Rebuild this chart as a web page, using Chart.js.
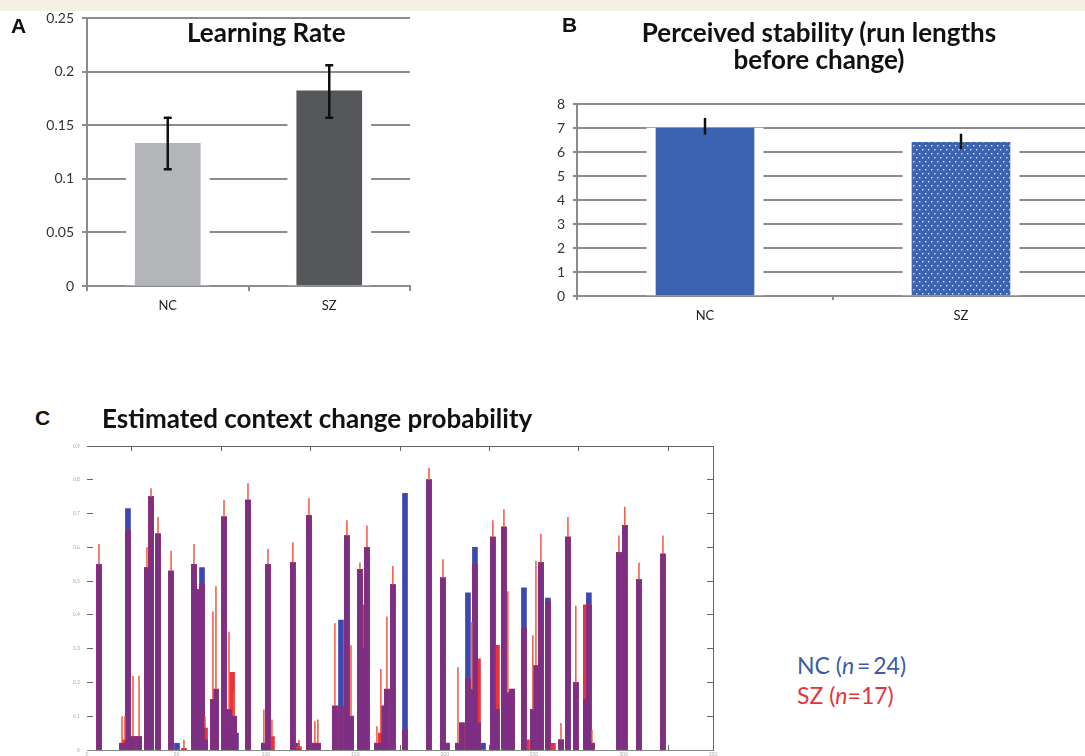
<!DOCTYPE html>
<html>
<head>
<meta charset="utf-8">
<script src="https://cdn.jsdelivr.net/npm/chart.js@4.4.1/dist/chart.umd.min.js"></script>
<style>
  html, body { margin: 0; padding: 0; background: #fff; overflow: hidden; width: 1085px; height: 756px; }
  body { position: relative; font-family: Lato, "Open Sans", sans-serif; }
  #strip { position: absolute; left: 0; top: 0; width: 1085px; height: 11px; background: #f4f0e4; }
  .box { position: absolute; }
  .letter { position: absolute; font: bold 21px "Liberation Sans", Arial, sans-serif; color: #111; }
  .ttl { position: absolute; font-family: Lato, sans-serif; font-weight: bold; font-size: 26px; color: #111; white-space: nowrap; line-height: 27px; }
  #legendC { position: absolute; left: 797px; top: 650px; font-family: Lato, sans-serif; font-size: 23px; line-height: 30px; }
</style>
</head>
<body>
<div id="strip"></div>
<div class="box" style="left:0;top:0;width:430px;height:320px"><canvas id="chartA"></canvas></div>
<div class="box" style="left:540px;top:0;width:560px;height:330px"><canvas id="chartB"></canvas></div>
<div class="box" style="left:0;top:430px;width:760px;height:340px"><canvas id="chartC"></canvas></div>

<div class="letter" style="left:11px;top:14px">A</div>
<div class="letter" style="left:562px;top:13px">B</div>
<div class="letter" style="left:35px;top:406px">C</div>
<div class="ttl" style="left:187px;top:19px">Learning Rate</div>
<div class="ttl" style="left:619px;top:19px;width:400px;text-align:center">Perceived stability (run lengths<br>before change)</div>
<div class="ttl" style="left:102px;top:405px">Estimated context change probability</div>
<div id="legendC">
  <div style="color:#3c5ba8">NC (<i>n</i>&#8201;=&#8201;24)</div>
  <div style="color:#e2363b">SZ (<i>n</i>=17)</div>
</div>

<script>
// ---- data ----
const groups = ['NC', 'SZ'];

// A: learning rate
const rateMean = [0.133, 0.182];
const rateLow = [0.109, 0.157];
const rateHigh = [0.157, 0.206];
const rateTicks = [0, 0.05, 0.1, 0.15, 0.2, 0.25];

// B: perceived stability
const runMean = [7.0, 6.4];
const runLow = [6.72, 6.12];
const runHigh = [7.42, 6.76];
const runTicks = [0, 1, 2, 3, 4, 5, 6, 7, 8];

// C: estimated context change probability per trial
const trialPos = [6.7, 19.6, 21.2, 22.9, 25.7, 29.1, 33.5, 35.8, 39.7, 47.0,
  50.3, 54.2, 59.8, 62.0, 64.3, 66.0, 70.4, 72.1, 76.6, 79.4,
  81.1, 82.2, 83.3, 90.0, 98.9, 101.2, 103.4, 115.1, 117.4, 118.5,
  124.1, 127.4, 129.1, 138.6, 142.0, 145.3, 147.6, 152.6, 154.3, 156.5,
  162.1, 164.3, 166.0, 167.7, 171.0, 177.8, 191.2, 199.0, 201.2, 207.4,
  209.6, 213.0, 215.2, 216.9, 218.6, 221.4, 226.9, 229.2, 233.1, 235.3,
  237.6, 244.3, 246.0, 249.3, 251.0, 253.8, 257.7, 260.5, 265.0, 268.9,
  273.3, 278.9, 280.6, 282.3, 297.4, 300.7, 308.6, 322.0];
const ncProb = [0.55, 0.02, 0, 0.715, 0.04, 0.04, 0.54, 0.75, 0.64, 0.53,
  0.02, 0, 0.55, 0.475, 0.54, 0.03, 0.15, 0.18, 0.69, 0.12,
  0.05, 0.10, 0.05, 0.74, 0.02, 0.55, 0, 0.555, 0.02, 0,
  0.695, 0.02, 0.02, 0.13, 0.385, 0.635, 0.10, 0.535, 0.30, 0.60,
  0.02, 0.02, 0.13, 0.18, 0.49, 0.76, 0.80, 0.51, 0.02, 0.02,
  0.08, 0.465, 0.18, 0.60, 0.08, 0.02, 0.63, 0.12, 0.66, 0.17,
  0.18, 0.48, 0, 0.12, 0.25, 0.555, 0.45, 0, 0.03, 0.63,
  0.20, 0.15, 0.465, 0.02, 0.585, 0.665, 0.505, 0.58];
const szProb = [0.55, 0.02, 0.03, 0.65, 0.04, 0.04, 0.54, 0.75, 0.64, 0.53,
  0, 0.005, 0.55, 0.475, 0.49, 0.065, 0.15, 0.18, 0.69, 0.12,
  0.23, 0.10, 0, 0.74, 0.02, 0.55, 0.04, 0.555, 0, 0.01,
  0.695, 0.02, 0.02, 0.13, 0.13, 0.635, 0.10, 0.535, 0.43, 0.60,
  0.02, 0.05, 0.13, 0.18, 0.49, 0.06, 0.80, 0.51, 0.02, 0.02,
  0.08, 0.21, 0.18, 0.55, 0.27, 0, 0.63, 0.31, 0.66, 0.17,
  0.18, 0.36, 0.03, 0.12, 0.25, 0.555, 0.44, 0.02, 0.03, 0.63,
  0.20, 0.43, 0.43, 0.02, 0.585, 0.665, 0.505, 0.58];
const szErrTop = [0.61, 0.10, 0.10, null, 0.22, 0.22, 0.60, 0.775, 0.69, 0.59,
  null, 0.03, 0.61, null, null, 0.10, 0.41, 0.485, 0.74, 0.35,
  null, 0.17, null, 0.79, 0.12, 0.595, 0.09, 0.615, null, 0.03,
  0.745, 0.085, 0.09, 0.375, null, 0.68, 0.31, 0.555, null, 0.665,
  0.07, 0.24, null, 0.395, 0.545, null, 0.835, 0.565, null, 0.245,
  null, null, 0.38, null, null, null, 0.68, null, 0.713, 0.47,
  null, null, null, 0.34, 0.56, 0.64, null, null, 0.08, 0.69,
  0.427, null, null, 0.06, 0.635, 0.72, 0.555, 0.635];
const trialTicks = [0, 50, 100, 150, 200, 250, 300, 350];
const probTicks = [0, 0.1, 0.2, 0.3, 0.4, 0.5, 0.6, 0.7, 0.8, 0.9];

// ---- helpers ----
const whiskers = {
  id: 'whiskers',
  afterDatasetsDraw(chart, args, opts) {
    if (!opts.high) return;
    const { ctx, scales: { x, y } } = chart;
    ctx.save();
    ctx.strokeStyle = opts.color;
    ctx.lineWidth = opts.width;
    opts.high.forEach((hi, i) => {
      if (hi == null) return;
      const px = x.getPixelForValue(opts.at[i]);
      const y1 = y.getPixelForValue(opts.low[i]);
      const y2 = y.getPixelForValue(hi);
      ctx.beginPath();
      ctx.moveTo(px, y1); ctx.lineTo(px, y2);
      if (opts.cap) {
        ctx.moveTo(px - opts.cap, y1); ctx.lineTo(px + opts.cap, y1);
        ctx.moveTo(px - opts.cap, y2); ctx.lineTo(px + opts.cap, y2);
      }
      ctx.stroke();
    });
    ctx.restore();
  }
};
Chart.register(whiskers);

function dotPattern(base) {
  const c = document.createElement('canvas');
  c.width = 6; c.height = 8;
  const g = c.getContext('2d');
  g.fillStyle = base;
  g.fillRect(0, 0, 6, 8);
  g.fillStyle = 'rgba(235,240,250,0.9)';
  g.fillRect(1, 1, 1.4, 1.4);
  g.fillRect(4, 5, 1.4, 1.4);
  return g.createPattern(c, 'repeat');
}

const gridGrey = '#8c8c8c';
const plain = v => String(v);
Chart.defaults.font.family = 'Lato, "Open Sans", sans-serif';
Chart.defaults.animation = false;

// ---- A ----
new Chart(document.getElementById('chartA'), {
  type: 'bar',
  data: {
    labels: groups,
    datasets: [
      { data: rateMean, backgroundColor: ['#b3b5b8', '#55575a'], barThickness: 65, grouped: false },
      { data: rateMean, backgroundColor: '#fff', barThickness: 83, grouped: false }
    ]
  },
  options: {
    responsive: true,
    maintainAspectRatio: false,
    layout: { padding: { top: 18, right: 20, left: 0, bottom: 0 } },
    plugins: {
      legend: { display: false },
      tooltip: { enabled: false },
      whiskers: { at: [0, 1], low: rateLow, high: rateHigh, color: '#111', width: 2.5, cap: 4 }
    },
    scales: {
      x: {
        z: 1,
        grid: { drawOnChartArea: false, color: gridGrey, lineWidth: 2, tickLength: 5 },
        border: { color: gridGrey, width: 2 },
        ticks: { color: '#222', font: { size: 13 }, padding: 7 },
        afterFit(s) { s.height = 34; }
      },
      y: {
        min: 0, max: 0.25,
        afterBuildTicks(s) { s.ticks = rateTicks.map(v => ({ value: v })); },
        grid: { color: gridGrey, lineWidth: 2, tickLength: 5 },
        border: { color: gridGrey, width: 2 },
        ticks: { color: '#333', font: { size: 14 }, padding: 8, callback: plain },
        afterFit(s) { s.width = 87; }
      }
    }
  }
});

// ---- B ----
const blueB = '#3b63b0';
new Chart(document.getElementById('chartB'), {
  type: 'bar',
  data: {
    labels: groups,
    datasets: [
      { data: runMean, backgroundColor: [blueB, dotPattern(blueB)], barThickness: 98, grouped: false },
      { data: runMean, backgroundColor: '#fff', barThickness: 116, grouped: false }
    ]
  },
  options: {
    responsive: true,
    maintainAspectRatio: false,
    layout: { padding: { top: 104, right: 11, left: 0, bottom: 0 } },
    plugins: {
      legend: { display: false },
      tooltip: { enabled: false },
      whiskers: { at: [0, 1], low: runLow, high: runHigh, color: '#111', width: 2.5, cap: 0 }
    },
    scales: {
      x: {
        z: 1,
        grid: { drawOnChartArea: false, color: gridGrey, lineWidth: 2, tickLength: 4 },
        border: { color: gridGrey, width: 2 },
        ticks: { color: '#222', font: { size: 13 }, padding: 8 },
        afterFit(s) { s.height = 34; }
      },
      y: {
        min: 0, max: 8,
        afterBuildTicks(s) { s.ticks = runTicks.map(v => ({ value: v })); },
        grid: { color: gridGrey, lineWidth: 2, tickLength: 4 },
        border: { color: gridGrey, width: 2 },
        ticks: { color: '#333', font: { size: 14 }, padding: 8, callback: plain },
        afterFit(s) { s.width = 37; }
      }
    }
  }
});

// ---- C ----
const pts = arr => arr.map((v, i) => ({ x: trialPos[i], y: v }));
const overlap = ncProb.map((v, i) => Math.min(v, szProb[i]));
const tinyTicks = { color: '#aaa', font: { size: 5 } };
new Chart(document.getElementById('chartC'), {
  type: 'bar',
  data: {
    datasets: [
      { data: pts(overlap), backgroundColor: '#7d2f84', barThickness: 5, grouped: false },
      { data: pts(szProb), backgroundColor: '#ea3238', barThickness: 5, grouped: false },
      { data: pts(ncProb), backgroundColor: '#3d47b0', barThickness: 5, grouped: false }
    ]
  },
  options: {
    responsive: true,
    maintainAspectRatio: false,
    layout: { padding: { top: 15, right: 0, left: 0, bottom: 0 } },
    plugins: {
      legend: { display: false },
      tooltip: { enabled: false },
      whiskers: { at: trialPos, low: szProb, high: szErrTop, color: '#f2563f', width: 1.5, cap: 0 }
    },
    scales: {
      x: {
        type: 'linear', min: 0, max: 350, offset: false,
        afterBuildTicks(s) { s.ticks = trialTicks.map(v => ({ value: v })); },
        grid: { drawOnChartArea: false, color: '#666', tickLength: -5 },
        border: { color: '#888' },
        ticks: { ...tinyTicks, padding: 6 },
        afterFit(s) { s.height = 20; }
      },
      x2: {
        type: 'linear', position: 'top', min: 0, max: 350, offset: false,
        afterBuildTicks(s) { s.ticks = trialTicks.map(v => ({ value: v })); },
        grid: { drawOnChartArea: false, color: '#666', tickLength: -5 },
        border: { color: '#666' },
        ticks: { display: false },
        afterFit(s) { s.height = 0; }
      },
      y: {
        min: 0, max: 0.9,
        afterBuildTicks(s) { s.ticks = probTicks.map(v => ({ value: v })); },
        grid: { drawOnChartArea: false, color: '#666', tickLength: -6 },
        border: { display: false },
        ticks: { ...tinyTicks, padding: 13, callback: plain },
        afterFit(s) { s.width = 87; }
      },
      y2: {
        position: 'right', min: 0, max: 0.9,
        afterBuildTicks(s) { s.ticks = probTicks.map(v => ({ value: v })); },
        grid: { drawOnChartArea: false, color: '#666', tickLength: -6 },
        border: { color: '#666' },
        ticks: { display: false },
        afterFit(s) { s.width = 47; }
      }
    }
  }
});
</script>
</body>
</html>
